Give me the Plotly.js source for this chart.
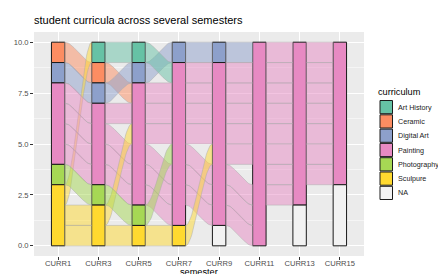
<!DOCTYPE html>
<html><head><meta charset="utf-8">
<script src="https://cdn.plot.ly/plotly-3.0.1.min.js"></script>
<style>html,body{margin:0;padding:0;background:#fff}#chart{width:438px;height:274px}</style>
</head><body><div id="chart"></div>
<script>
// ---- data ----
const semesters = ["CURR1","CURR3","CURR5","CURR7","CURR9","CURR11","CURR13","CURR15"];
const curricula = ["Art History","Ceramic","Digital Art","Painting","Photography","Sculpure","NA"];
const palette = ["#66C2A5","#FC8D62","#8DA0CB","#E78AC3","#A6D854","#FFD92F","#F2F2F2"];
// curriculum of each student in each semester (null = NA)
const studentA = ["Ceramic","Ceramic","Painting","Painting","Painting","Painting","Painting","Painting"];
const studentB = ["Digital Art","Digital Art","Digital Art","Digital Art","Digital Art","Painting","Painting","Painting"];
const studentC = ["Sculpure","Art History","Art History","Painting","Painting","Painting","Painting","Painting"];
const studentD = ["Painting","Painting","Painting","Painting","Painting","Painting","Painting","Painting"];
const studentE = ["Painting","Painting","Painting","Painting","Painting","Painting",null,null];
const studentF = ["Painting","Painting","Painting","Painting","Painting","Painting",null,null];
const studentG = ["Painting","Painting","Painting","Painting",null,"Painting","Painting","Painting"];
const studentH = ["Sculpure","Sculpure","Painting","Painting","Painting","Painting","Painting","Painting"];
const studentI = ["Photography","Photography","Photography","Painting","Painting","Painting","Painting",null];
const studentJ = ["Sculpure","Sculpure","Sculpure","Sculpure","Painting","Painting","Painting","Painting"];
const students = [studentA,studentB,studentC,studentD,studentE,studentF,studentG,studentH,studentI,studentJ];

// ---- layout constants (pixels) ----
const W=438,H=274,L=34,R=364,T=32,B=256;
const px2x = p => (p-L)/(R-L), py2y = p => (B-p)/(B-T);
const barW = 1/3;
const FONT = "Liberation Sans, Arial, sans-serif";

const lab = c => (c===null ? "NA" : c);
const rank = c => curricula.indexOf(lab(c));
const nAx = semesters.length, nS = students.length;

// lode ordering ("frontback" guidance): within stratum order by later axes, then earlier ones
const pos = students.map(()=>[]);
for (let a=0;a<nAx;a++){
  const prio=[]; for(let j=a+1;j<nAx;j++) prio.push(j); for(let j=a-1;j>=0;j--) prio.push(j);
  const idx = students.map((_,i)=>i);
  idx.sort((p,q)=>{
    let d = rank(students[p][a])-rank(students[q][a]); if(d) return d;
    for(const j of prio){ d = rank(students[p][j])-rank(students[q][j]); if(d) return d; }
    return p-q;
  });
  let top = nS;
  idx.forEach(i=>{ pos[i][a]={hi:top, lo:top-1}; top-=1; });
}

function rgba(hex,a){const n=parseInt(hex.slice(1),16);return `rgba(${n>>16},${(n>>8)&255},${n&255},${a})`;}

const traces=[];
// flows
const N=30;
students.forEach((s,i)=>{
  for(let a=0;a<nAx-1;a++){
    if(s[a]===null || s[a+1]===null) continue;
    const x0=a+1+barW/2, x1=a+2-barW/2;
    const p0=pos[i][a], p1=pos[i][a+1];
    const xs=[], ys=[];
    for(let k=0;k<=N;k++){const t=k/N, st=t*t*(3-2*t); xs.push(x0+(x1-x0)*t); ys.push(p0.hi+(p1.hi-p0.hi)*st);}
    for(let k=N;k>=0;k--){const t=k/N, st=t*t*(3-2*t); xs.push(x0+(x1-x0)*t); ys.push(p0.lo+(p1.lo-p0.lo)*st);}
    xs.push(xs[0]); ys.push(ys[0]);
    traces.push({type:"scatter",mode:"lines",x:xs,y:ys,fill:"toself",
      fillcolor:rgba(palette[rank(s[a])],0.5),
      line:{color:"rgba(169,169,169,0.9)",width:0.5},hoverinfo:"skip",showlegend:false});
  }
});
// strata
curricula.forEach((c,ci)=>{
  const xs=[],ys=[],bs=[];
  for(let a=0;a<nAx;a++){
    const members = students.map((s,i)=>i).filter(i=>lab(students[i][a])===c);
    if(!members.length) continue;
    xs.push(a+1); ys.push(members.length); bs.push(Math.min(...members.map(i=>pos[i][a].lo)));
  }
  traces.push({type:"bar",x:xs,y:ys,base:bs,width:barW,name:c,
    marker:{color:palette[ci],line:{color:"#1a1a1a",width:1}},showlegend:false,hoverinfo:"skip"});
});

// manual legend
const shapes=[], annotations=[];
annotations.push({xref:"paper",yref:"paper",x:px2x(376),y:py2y(92),xanchor:"left",yanchor:"middle",
  text:"curriculum",showarrow:false,font:{family:FONT,size:9.2,color:"#000"}});
curricula.forEach((c,ci)=>{
  const y0=100.5+ci*14.3, y1=y0+13.2;
  shapes.push({type:"rect",xref:"paper",yref:"paper",x0:px2x(380),x1:px2x(392.5),y0:py2y(y1),y1:py2y(y0),
    fillcolor:palette[ci],line:{color:"#1a1a1a",width:1}});
  annotations.push({xref:"paper",yref:"paper",x:px2x(396),y:py2y((y0+y1)/2),xanchor:"left",yanchor:"middle",
    text:c,showarrow:false,font:{family:FONT,size:7.2,color:"#1a1a1a"}});
});
// x axis title (placed like the reference, partly below the tick labels)
annotations.push({xref:"paper",yref:"paper",x:0.5,y:py2y(271.5),xanchor:"center",yanchor:"middle",
  text:"semester",showarrow:false,font:{family:FONT,size:9.2,color:"#000"}});

const layout={
  width:W,height:H,margin:{l:L,r:W-R,t:T,b:H-B,pad:0},
  paper_bgcolor:"#fff",plot_bgcolor:"#EBEBEB",barmode:"overlay",showlegend:false,
  title:{text:"student curricula across several semesters",xref:"paper",x:0,xanchor:"left",
    yref:"container",y:1-20/H,yanchor:"middle",font:{family:FONT,size:11,color:"#000"}},
  xaxis:{range:[0.4,8.6],tickvals:semesters.map((_,i)=>i+1),ticktext:semesters,
    showgrid:true,gridcolor:"#fff",gridwidth:1,zeroline:false,showline:false,
    ticks:"outside",ticklen:3,tickcolor:"#333",tickwidth:1,ticklabelstandoff:-3,
    tickfont:{family:FONT,size:7.6,color:"#4D4D4D"}},
  yaxis:{range:[-0.5,10.5],tickvals:[0,2.5,5,7.5,10],ticktext:["0.0","2.5","5.0","7.5","10.0"],
    showgrid:true,gridcolor:"#fff",gridwidth:1,zeroline:false,showline:false,
    ticks:"outside",ticklen:3,tickcolor:"#333",tickwidth:1,
    tickfont:{family:FONT,size:7.6,color:"#4D4D4D"},
    minor:{tickvals:[1.25,3.75,6.25,8.75],showgrid:true,gridcolor:"#fff",gridwidth:0.5,ticks:""}},
  shapes:shapes,annotations:annotations
};
Plotly.newPlot("chart",traces,layout,{staticPlot:true,displayModeBar:false});
</script></body></html>
